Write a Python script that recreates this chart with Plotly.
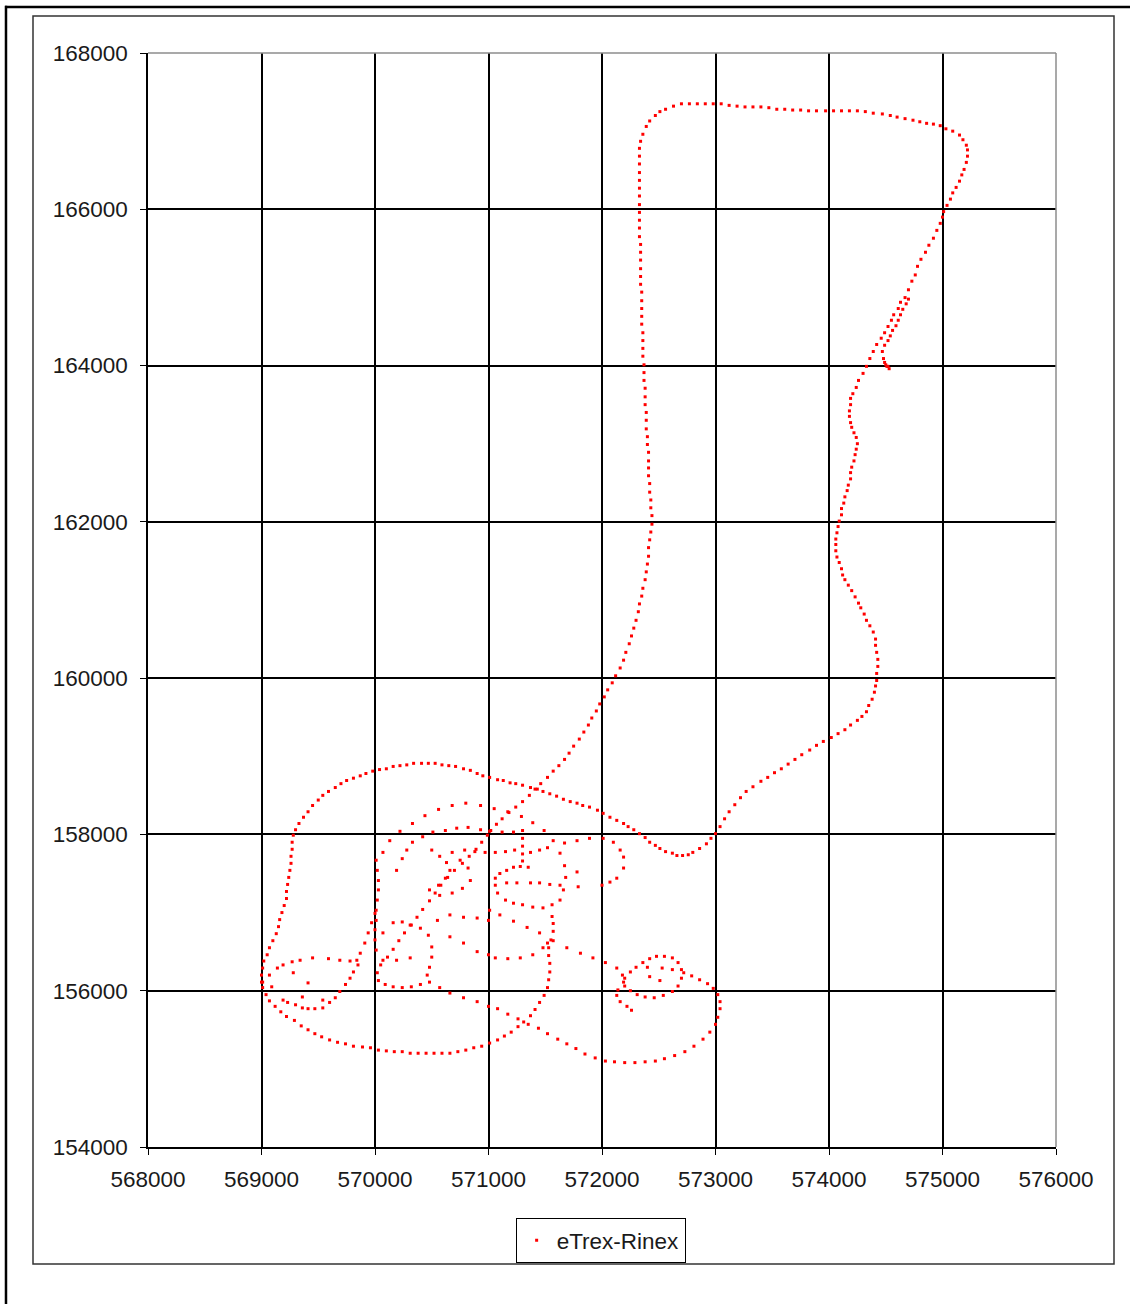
import plotly.graph_objects as go

# GPS track (national grid easting / northing, metres), listed segment by segment
spur_x = [574510, 574530, 574500, 574520, 574490, 574480, 574470, 574490, 574520, 574540,
          574560, 574590, 574610, 574630, 574650, 574680, 574700]
spur_y = [163990, 163960, 164010, 163990, 164040, 164090, 164180, 164260, 164320, 164380,
          164450, 164510, 164580, 164650, 164720, 164790, 164850]

east_x = [572800, 572860, 572920, 572960, 573000, 573040, 573080, 573120, 573170, 573220,
          573270, 573330, 573400, 573460, 573520, 573580, 573640, 573700, 573760, 573830,
          573890, 573950, 574020, 574080, 574140, 574190, 574250, 574290, 574330, 574350,
          574380, 574400, 574410, 574420,
          574420, 574430, 574430, 574420, 574410, 574410, 574390, 574360, 574330, 574310,
          574280, 574260, 574230, 574200, 574170, 574140, 574120, 574110, 574090, 574070,
          574060, 574060, 574060, 574070, 574080, 574090, 574110, 574110, 574130, 574140,
          574160, 574170, 574190, 574190, 574200, 574220, 574230, 574240, 574250, 574240,
          574220, 574200, 574190, 574180, 574180, 574190, 574190, 574210, 574240,
          574260, 574300, 574330, 574360, 574390, 574420, 574460, 574490, 574520, 574550,
          574570, 574610, 574630, 574670, 574700, 574730, 574760, 574780, 574810, 574850,
          574880, 574920, 574950, 574980, 575000, 575010, 575040, 575070, 575090, 575120,
          575150, 575170, 575190, 575210, 575220, 575220, 575210, 575180, 575150]
east_y = [157770, 157820, 157880, 157950, 158010, 158100, 158200, 158290, 158380, 158470,
          158550, 158610, 158680, 158730, 158790, 158840, 158900, 158960, 159020, 159080,
          159140, 159190, 159240, 159290, 159340, 159400, 159460, 159510, 159570, 159650,
          159730, 159820, 159900, 159970,
          160060, 160150, 160240, 160330, 160420, 160500, 160590, 160670, 160740, 160820,
          160900, 160960, 161040, 161120, 161190, 161260, 161320, 161400, 161480, 161550,
          161630, 161710, 161780, 161860, 161940, 162010, 162090, 162170, 162240, 162320,
          162400, 162470, 162550, 162630, 162700, 162780, 162860, 162930, 163000, 163080,
          163140, 163210, 163270, 163350, 163420, 163500, 163580, 163640, 163720,
          163810, 163900, 163990, 164090, 164180, 164270, 164350, 164420, 164500, 164580,
          164650, 164730, 164810, 164870, 164970, 165080, 165160, 165270, 165360, 165450,
          165540, 165630, 165730, 165820, 165900, 165970, 166050, 166130, 166210, 166280,
          166360, 166440, 166510, 166600, 166680, 166760, 166820, 166890, 166950]

north_x = [575090, 575030, 574980, 574920, 574860, 574800, 574740, 574670, 574600, 574540,
           574470, 574390, 574320, 574250, 574180, 574110, 574040, 573970, 573890, 573820,
           573750, 573680, 573610, 573540, 573470, 573400, 573330, 573260, 573190, 573120,
           573050, 572980, 572910, 572840, 572770, 572700, 572630, 572560, 572510, 572470,
           572420, 572390, 572360, 572340]
north_y = [167000, 167030, 167070, 167090, 167100, 167120, 167140, 167160, 167180, 167200,
           167220, 167230, 167250, 167260, 167260, 167260, 167260, 167260, 167260, 167260,
           167270, 167270, 167280, 167280, 167300, 167310, 167310, 167310, 167320, 167330,
           167350, 167350, 167350, 167350, 167350, 167350, 167320, 167280, 167250, 167200,
           167130, 167060, 166960, 166870]

west_x = [572330, 572330, 572330, 572330, 572330, 572330, 572330, 572330, 572330, 572330,
          572330, 572330, 572340, 572340, 572340, 572340, 572340, 572340, 572350, 572350,
          572350, 572350, 572350, 572360, 572360, 572360, 572360, 572370, 572370, 572370,
          572380, 572380, 572380, 572390, 572390, 572390, 572400, 572400, 572410, 572410,
          572410, 572410, 572420, 572420, 572430, 572430, 572440, 572440, 572430, 572420,
          572410, 572410, 572400, 572390, 572380, 572360, 572350, 572330, 572320, 572300,
          572280, 572260, 572240, 572210, 572190, 572160, 572120, 572090, 572050, 572020,
          571980, 571950, 571910, 571880, 571840, 571800, 571750, 571710, 571670, 571620,
          571570, 571520, 571460, 571410, 571360, 571300, 571240, 571180, 571120, 571070,
          571020, 570990]
west_y = [166780, 166680, 166580, 166470, 166370, 166270, 166170, 166060, 165960, 165860,
          165760, 165650, 165550, 165450, 165350, 165240, 165140, 165040, 164940, 164830,
          164730, 164630, 164530, 164420, 164320, 164220, 164120, 164010, 163910, 163810,
          163710, 163600, 163500, 163400, 163300, 163190, 163090, 162990, 162890, 162780,
          162690, 162590, 162490, 162380, 162280, 162180, 162080, 161970, 161870, 161770,
          161670, 161560, 161460, 161360, 161260, 161150, 161050, 160950, 160850, 160740,
          160640, 160540, 160440, 160330, 160230, 160130, 160030, 159940, 159850, 159760,
          159670, 159580, 159490, 159400, 159310, 159220, 159130, 159040, 158960, 158880,
          158810, 158730, 158650, 158580, 158500, 158420, 158350, 158280, 158200, 158130,
          158050, 157990]

arc_x = [572760, 572710, 572660, 572620, 572560, 572510, 572470, 572420, 572380, 572330,
         572280, 572230, 572190, 572130, 572070, 572010, 571960, 571890, 571830, 571780,
         571720, 571660, 571600, 571540, 571480, 571430, 571370, 571300, 571240, 571190,
         571130, 571080, 571010, 570950, 570900, 570840, 570780, 570710, 570650, 570590,
         570530, 570470, 570410, 570340, 570280, 570220, 570160, 570100, 570040, 569980,
         569920, 569870, 569810, 569750, 569700, 569650, 569590, 569540, 569500, 569450,
         569410, 569370, 569330, 569300, 569280, 569270, 569270, 569260, 569260, 569250,
         569240, 569230, 569220, 569220, 569200, 569180, 569160, 569150, 569130, 569100,
         569070, 569050, 569020, 569010, 569000, 569000, 569010]
arc_y = [157740, 157730, 157730, 157760, 157780, 157820, 157860, 157900, 157960, 158010,
         158060, 158100, 158140, 158180, 158220, 158270, 158310, 158350, 158370, 158400,
         158420, 158450, 158490, 158520, 158550, 158580, 158600, 158630, 158650, 158660,
         158690, 158700, 158730, 158750, 158780, 158820, 158840, 158870, 158880, 158890,
         158910, 158910, 158910, 158910, 158890, 158880, 158870, 158840, 158830, 158810,
         158780, 158750, 158720, 158690, 158650, 158600, 158550, 158500, 158440, 158370,
         158290, 158220, 158140, 158060, 157990, 157900, 157810, 157720, 157630, 157540,
         157450, 157360, 157270, 157180, 157090, 157000, 156910, 156820, 156730, 156640,
         156550, 156460, 156380, 156290, 156200, 156110, 156040]

south_x = [569040, 569070, 569120, 569170, 569220, 569290, 569350, 569410, 569470, 569530,
           569600, 569670, 569740, 569810, 569890, 569960, 570030, 570100, 570170, 570240,
           570310, 570380, 570450, 570520, 570590, 570660, 570730, 570800, 570870, 570940,
           571010, 571080, 571140, 571200, 571260, 571310, 571370, 571410, 571450, 571490,
           571520, 571530, 571540, 571540, 571530, 571530, 571550, 571570, 571570, 571560]
south_y = [155950, 155870, 155800, 155730, 155670, 155620, 155550, 155500, 155450, 155410,
           155370, 155340, 155320, 155290, 155280, 155270, 155240, 155230, 155220, 155220,
           155200, 155200, 155200, 155200, 155200, 155200, 155220, 155240, 155270, 155290,
           155330, 155370, 155420, 155470, 155540, 155600, 155680, 155760, 155850, 155940,
           156040, 156140, 156240, 156350, 156450, 156550, 156650, 156760, 156860, 156950]

loop_w_x = [569010, 569070, 569140, 569190, 569270, 569340, 569450, 569590, 569690, 569780,
            569840, 569850, 569810, 569780, 569740, 569690, 569650, 569600, 569540, 569470,
            569410, 569360, 569300, 569230, 569190, 569280, 569410, 569360, 569540, 569090,
            569870, 569910, 569940, 569970, 570000]
loop_w_y = [156110, 156200, 156290, 156330, 156370, 156390, 156420, 156410, 156390, 156380,
            156390, 156330, 156240, 156160, 156080, 155990, 155910, 155850, 155780, 155770,
            155770, 155780, 155820, 155850, 155880, 156230, 156100, 155920, 155880, 156050,
            156480, 156610, 156740, 156870, 156990]

# diagonal through the centre and the small bottom loop
diag_x = [570940, 570890, 570830, 570770, 570700, 570640, 570580, 570530, 570480, 570420,
          570370, 570320, 570260, 570210, 570160, 570110, 570050, 570020, 570030, 570090,
          570160, 570240, 570320, 570400]
diag_y = [157900, 157810, 157720, 157630, 157540, 157450, 157350, 157250, 157150, 157040,
          156940, 156840, 156740, 156640, 156530, 156430, 156330, 156230, 156130, 156080,
          156050, 156040, 156050, 156080]

# outer oval of the knot with its lower lobe
oval_x = [570070, 570130, 570220, 570330, 570440, 570560, 570680, 570800, 570930, 571050,
          571170, 571290, 571390, 571490, 571570, 571630, 571670, 571680, 571660, 571630,
          571560, 571480, 571390, 571300, 571220, 571150, 571080, 571060, 571060, 571100,
          571160, 571220, 571280, 571350]
oval_y = [157770, 157920, 158040, 158140, 158240, 158320, 158370, 158400, 158370, 158330,
          158290, 158230, 158150, 158050, 157920, 157760, 157600, 157450, 157290, 157160,
          157100, 157060, 157070, 157100, 157120, 157160, 157250, 157350, 157440, 157500,
          157540, 157580, 157590, 157580]

# inner arcs and rows of the knot
inner_x = [570190, 570240, 570280, 570330, 570420, 570510, 570620, 570720, 570820, 570930,
           571010, 571120, 571220, 571300, 571300, 571300, 571300, 571300,
           570790, 570880, 570970, 571060, 571150, 571230, 571370, 571450, 571520,
           571160, 571250, 571370, 571450, 571540, 571630,
           570500, 570570, 570630, 570660, 570620, 570560, 570480, 570570, 570680, 570770,
           570840, 570820, 570750, 570680,
           570010, 570020, 570030, 570030, 570020, 570010, 570010, 570000, 570000, 570010]
inner_y = [157540, 157690, 157800, 157900, 157970, 158030, 158050, 158080, 158090, 158060,
           158040, 158030, 158030, 158050, 157950, 157850, 157750, 157660,
           157800, 157780, 157770, 157770, 157780, 157800, 157770, 157800, 157830,
           157380, 157380, 157380, 157380, 157360, 157350,
           157800, 157720, 157640, 157540, 157440, 157350, 157290, 157220, 157250, 157310,
           157410, 157570, 157670, 157770,
           157670, 157540, 157410, 157290, 157160, 157030, 156900, 156780, 156650, 156520]

# lower part of the knot
lower_x = [570070, 570160, 570240, 570310, 570400, 570470, 570500, 570500, 570480, 570460,
           570550, 570660, 570780, 570900, 571000,
           570660, 570780, 570900, 571000, 571060, 571170, 571280, 571390, 571480, 571520,
           570070, 570190, 570310]
lower_y = [156740, 156870, 156880, 156840, 156800, 156710, 156560, 156430, 156300, 156200,
           156900, 156970, 156940, 156930, 156900,
           156690, 156610, 156500, 156460, 156420, 156410, 156420, 156460, 156550, 156610,
           156390, 156390, 156420]

southeast_x = [570480, 570570, 570660, 570780, 570900, 571000, 571080, 571170, 571260, 571350,
               571440, 571520, 571610, 571690, 571770, 571850, 571940, 572030, 572110, 572200,
               572290, 572380, 572470, 572550, 572640, 572730, 572810, 572890, 572950, 573000,
               573020, 573040, 573040, 573020, 572980, 572930, 572860, 572790, 572720,
               571010, 571100, 571220, 571340, 571450, 571570, 571690, 571810, 571920, 572030]
southeast_y = [156110, 156040, 155970, 155910, 155860, 155800, 155770, 155700, 155640, 155570,
               155520, 155450, 155380, 155320, 155260, 155190, 155140, 155100, 155090, 155080,
               155080, 155090, 155100, 155130, 155170, 155220, 155290, 155380, 155470, 155570,
               155660, 155770, 155860, 155950, 156030, 156090, 156140, 156190, 156230,
               157030, 156970, 156890, 156810, 156740, 156640, 156550, 156480, 156420, 156360]

loop_e_x = [572130, 572180, 572190, 572140, 572130, 572160, 572220, 572260,
            572200, 572250, 572300, 572360, 572420, 572480, 572550, 572620, 572670, 572700,
            572700, 572670, 572620, 572540, 572460, 572380, 572310, 572250, 572200,
            572420, 572510, 572400, 572530, 572620]
loop_e_y = [156290, 156200, 156110, 156010, 155940, 155860, 155800, 155750,
            156160, 156240, 156300, 156360, 156410, 156440, 156440, 156420, 156360, 156270,
            156160, 156060, 155990, 155940, 155910, 155920, 155950, 156000, 156060,
            156180, 156130, 156300, 156290, 156270]

loop_n_x = [571670, 571780, 571890, 572010, 572100, 572160, 572190, 572190, 572130, 572070,
            572000, 571780, 571790]
loop_n_y = [157890, 157920, 157950, 157950, 157900, 157800, 157710, 157570, 157440, 157390,
            157350, 157520, 157330]

track_x = (spur_x + east_x + north_x + west_x + arc_x + south_x + loop_w_x + diag_x
           + oval_x + inner_x + lower_x + southeast_x + loop_e_x + loop_n_x)
track_y = (spur_y + east_y + north_y + west_y + arc_y + south_y + loop_w_y + diag_y
           + oval_y + inner_y + lower_y + southeast_y + loop_e_y + loop_n_y)

x_ticks = [568000, 569000, 570000, 571000, 572000, 573000, 574000, 575000, 576000]
y_ticks = [154000, 156000, 158000, 160000, 162000, 164000, 166000, 168000]

fig = go.Figure()
fig.add_trace(go.Scatter(
    x=track_x, y=track_y, mode="markers", name="eTrex-Rinex",
    marker=dict(symbol="square", size=3, color="#ff0000", line=dict(width=0)),
))

axis_common = dict(
    showgrid=True, gridcolor="#000000", gridwidth=1.5,
    showline=True, linecolor="#000000", linewidth=1.5,
    ticks="outside", ticklen=6, tickcolor="#000000", tickwidth=1.2,
    zeroline=False, tickmode="array",
    tickfont=dict(family="Liberation Sans, Arial, sans-serif", size=22.5, color="#1a1a1a"),
)
fig.update_xaxes(range=[568000, 576000], tickvals=x_ticks,
                 ticktext=[str(v) for v in x_ticks], ticklabelstandoff=5, **axis_common)
fig.update_yaxes(range=[154000, 168000], tickvals=y_ticks,
                 ticktext=[str(v) for v in y_ticks], ticklabelstandoff=8, **axis_common)

fig.update_layout(
    width=1130, height=1304,
    margin=dict(l=148, r=74, t=53, b=157),
    paper_bgcolor="white", plot_bgcolor="white",
    font=dict(family="Liberation Sans, Arial, sans-serif", size=22.5, color="#1a1a1a"),
    showlegend=True,
    legend=dict(x=0.4985, xanchor="center", y=-0.0649, yanchor="top",
                bgcolor="white", bordercolor="#000000", borderwidth=1,
                font=dict(size=22.5)),
    shapes=[
        # plot area border (top and right)
        dict(type="line", xref="paper", yref="paper", x0=0, x1=1, y0=1, y1=1,
             line=dict(color="#8c8c8c", width=1.5), layer="above"),
        dict(type="line", xref="paper", yref="paper", x0=1, x1=1, y0=0, y1=1,
             line=dict(color="#8c8c8c", width=1.5), layer="above"),
        # chart area frame
        dict(type="rect", xref="paper", yref="paper", x0=-0.12665, x1=1.06388,
             y0=-0.10695, y1=1.03382, line=dict(color="#333333", width=1.5)),
        # outer window edges
        dict(type="line", xref="paper", yref="paper", x0=-0.1575, x1=1.09, y0=1.04205, y1=1.04205,
             line=dict(color="#000000", width=2.5)),
        dict(type="line", xref="paper", yref="paper", x0=-0.1564, x1=-0.1564, y0=-0.15, y1=1.0432,
             line=dict(color="#000000", width=2.5)),
    ],
)

fig.write_html("out.html")
